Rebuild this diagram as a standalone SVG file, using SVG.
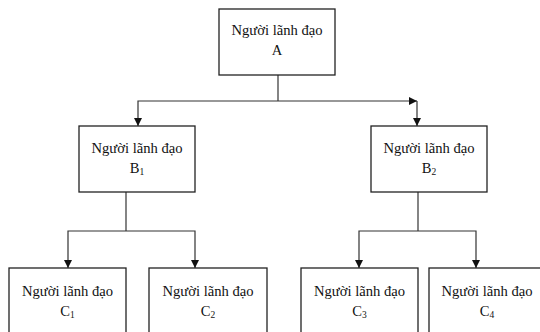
<svg xmlns="http://www.w3.org/2000/svg" width="540" height="332" viewBox="0 0 540 332">
<style>
.box{fill:#fff;stroke:#222;stroke-width:1.3}
.ln{fill:none;stroke:#333;stroke-width:1.2}
text{font-family:"Liberation Serif","Times New Roman",serif;font-size:14.6px;fill:#111;text-anchor:middle}
.sub{font-size:9.5px}
</style>
<defs>
<marker id="ah" viewBox="0 0 10 10" refX="10" refY="5" markerWidth="8" markerHeight="8" markerUnits="userSpaceOnUse" orient="auto">
<path d="M0,0 L10,5 L0,10 z" fill="#111"/>
</marker>
</defs>
<g id="connectors">
<path class="ln" d="M278,75 V101"/>
<path class="ln" d="M278,101 H138 V126" marker-end="url(#ah)"/>
<path class="ln" d="M278,101 H417" marker-end="url(#ah)"/>
<path class="ln" d="M417,101 V126" marker-end="url(#ah)"/>
<path class="ln" d="M126,192 V231"/>
<path class="ln" d="M126,231 H68 V268" marker-end="url(#ah)"/>
<path class="ln" d="M126,231 H195 V268" marker-end="url(#ah)"/>
<path class="ln" d="M418,192 V231"/>
<path class="ln" d="M418,231 H359 V268" marker-end="url(#ah)"/>
<path class="ln" d="M418,231 H476 V268" marker-end="url(#ah)"/>
</g>
<g id="A">
<rect class="box" x="219" y="9" width="116" height="66"/>
<text x="277" y="35">Người lãnh đạo</text>
<text x="277" y="55">A</text>
</g>
<g id="B1">
<rect class="box" x="79" y="126" width="116" height="66"/>
<text x="137" y="153">Người lãnh đạo</text>
<text x="137" y="173">B<tspan class="sub" dy="2">1</tspan></text>
</g>
<g id="B2">
<rect class="box" x="371" y="126" width="116" height="66"/>
<text x="429" y="153">Người lãnh đạo</text>
<text x="429" y="173">B<tspan class="sub" dy="2">2</tspan></text>
</g>
<g id="C1">
<rect class="box" x="9" y="268" width="117" height="70"/>
<text x="67.5" y="296">Người lãnh đạo</text>
<text x="67.5" y="316">C<tspan class="sub" dy="2">1</tspan></text>
</g>
<g id="C2">
<rect class="box" x="149" y="268" width="118" height="70"/>
<text x="208" y="296">Người lãnh đạo</text>
<text x="208" y="316">C<tspan class="sub" dy="2">2</tspan></text>
</g>
<g id="C3">
<rect class="box" x="301" y="268" width="117" height="70"/>
<text x="359.5" y="296">Người lãnh đạo</text>
<text x="359.5" y="316">C<tspan class="sub" dy="2">3</tspan></text>
</g>
<g id="C4">
<rect class="box" x="429" y="268" width="116" height="70"/>
<text x="487" y="296">Người lãnh đạo</text>
<text x="487" y="316">C<tspan class="sub" dy="2">4</tspan></text>
</g>
</svg>
